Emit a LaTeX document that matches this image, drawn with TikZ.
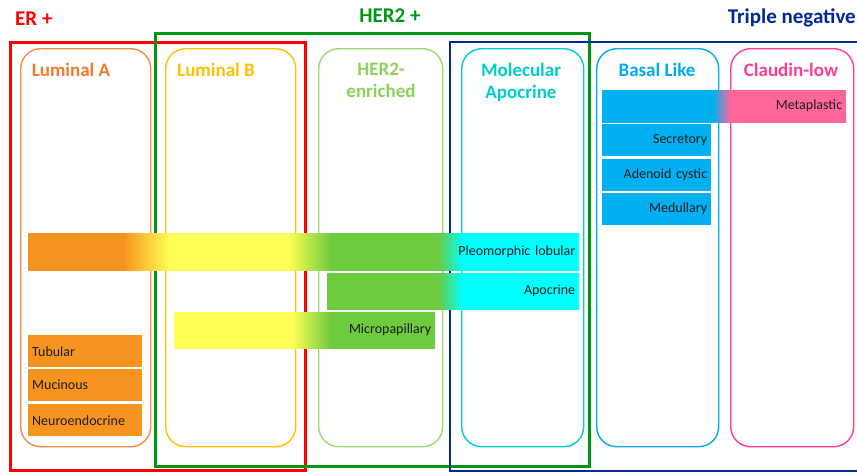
\documentclass[tikz,border=0pt]{standalone}
\usepackage{fontspec}
\setmainfont{Carlito}
\definecolor{orng}{RGB}{247,148,32}
\definecolor{yel}{RGB}{255,255,85}
\definecolor{grn}{RGB}{110,202,62}
\definecolor{cyn}{RGB}{0,255,255}
\definecolor{bluebar}{RGB}{0,176,240}
\definecolor{pinkbar}{RGB}{255,102,153}
\definecolor{lumA}{RGB}{245,122,40}
\definecolor{lumAb}{RGB}{245,140,70}
\definecolor{lumB}{RGB}{255,192,0}
\definecolor{hertwo}{RGB}{140,210,90}
\definecolor{molapo}{RGB}{0,205,205}
\definecolor{basal}{RGB}{0,170,240}
\definecolor{claudin}{RGB}{255,60,150}
\definecolor{erred}{RGB}{255,0,0}
\definecolor{hergreen}{RGB}{0,150,20}
\definecolor{tnblue}{RGB}{0,40,150}
\definecolor{bartxt}{RGB}{30,30,30}
\pgfdeclarehorizontalshading{pleoshade}{100bp}{color(0bp)=(orng); color(33.6bp)=(orng); color(37.8bp)=(yel); color(48.6bp)=(yel); color(52.5bp)=(grn); color(62.2bp)=(grn); color(64.4bp)=(cyn); color(100bp)=(cyn)}
\pgfdeclarehorizontalshading{aposhade}{100bp}{color(0bp)=(grn); color(47bp)=(grn); color(51.8bp)=(cyn); color(100bp)=(cyn)}
\pgfdeclarehorizontalshading{micshade}{100bp}{color(0bp)=(yel); color(47.6bp)=(yel); color(55bp)=(grn); color(100bp)=(grn)}
\pgfdeclarehorizontalshading{metashade}{100bp}{color(0bp)=(bluebar); color(47.7bp)=(bluebar); color(51.2bp)=(pinkbar); color(100bp)=(pinkbar)}
\begin{document}
\begin{tikzpicture}[x=1pt,y=-1pt,
  col/.style={draw=#1, line width=1.4pt, rounded corners=20pt, minimum width=130pt, minimum height=398pt, anchor=north west, inner sep=0pt},
  coltitle/.style={text=#1, font=\bfseries\fontsize{19}{22}\selectfont, align=center, inner sep=0pt},
  grouptitle/.style={text=#1, font=\bfseries\fontsize{21}{24}\selectfont, inner sep=0pt},
  bar/.style={anchor=north west, inner xsep=4pt, inner ysep=0pt, align=right, text=bartxt, font=\fontsize{14}{16}\selectfont},
  lbar/.style={anchor=north west, inner xsep=4pt, inner ysep=0pt, align=left, text=bartxt, font=\fontsize{14}{16}\selectfont, fill=orng},
  group/.style={draw=#1, line width=3pt}
]
\useasboundingbox (0,0) rectangle (857,472);
% column boxes
\node[col=lumAb, minimum width=130pt] (colA) at (20,48) {};
\node[col=lumB, minimum width=130pt] (colB) at (165,48) {};
\node[col=hertwo!85, minimum width=124pt] (colH) at (318,48) {};
\node[col=molapo, minimum width=122pt] (colM) at (461,48) {};
\node[col=basal, minimum width=122pt] (colBL) at (596,48) {};
\node[col=claudin, minimum width=123pt] (colC) at (730,48) {};
% group frames
\draw[group=erred] (10,42) rectangle (305,470);
\draw[group=hergreen] (155,33) rectangle (589,466);
\draw[group=tnblue, line width=2.5pt] (860,42) -- (450,42) -- (450,471) -- (860,471);
% column titles
\node[coltitle=lumA] (tA) at (71,70) {Luminal A};
\node[coltitle=lumB] (tB) at (216,70) {Luminal B};
\node[coltitle=hertwo, anchor=north] (tH) at (381,63) {HER2-\\enriched};
\node[coltitle=molapo, anchor=north] (tM) at (521,63) {Molecular\\Apocrine};
\node[coltitle=basal] (tBL) at (657,70) {Basal Like};
\node[coltitle=claudin] (tC) at (791,70) {Claudin-low};
% bars
\node[bar, shading=pleoshade, text width=543pt, minimum height=37pt] (pleo) at (28,233) {Pleomorphic lobular};
\node[bar, shading=aposhade, text width=244pt, minimum height=36pt] (apo) at (327,273) {Apocrine};
\node[bar, shading=micshade, text width=253pt, minimum height=36pt] (mic) at (174,312) {Micropapillary};
\node[bar, shading=metashade, text width=236pt, minimum height=32pt] (meta) at (602,90) {Metaplastic};
\node[bar, fill=bluebar, text width=101pt, minimum height=32pt] (secr) at (602,124) {Secretory};
\node[bar, fill=bluebar, text width=101pt, minimum height=32pt] (aden) at (602,159) {Adenoid cystic};
\node[bar, fill=bluebar, text width=101pt, minimum height=32pt] (medu) at (602,193) {Medullary};
\node[lbar, text width=106pt, minimum height=32pt] (tubu) at (28,335) {Tubular};
\node[lbar, text width=106pt, minimum height=32pt] (muci) at (28,369) {Mucinous};
\node[lbar, text width=106pt, minimum height=32pt] (neur) at (28,404) {Neuroendocrine};
% group titles
\node[grouptitle=erred, anchor=west] (gER) at (15,19) {ER +};
\node[grouptitle=hergreen] (gHER) at (390,16) {HER2 +};
\node[grouptitle=tnblue, anchor=east] (gTN) at (856,18) {Triple negative};
\end{tikzpicture}
\end{document}
